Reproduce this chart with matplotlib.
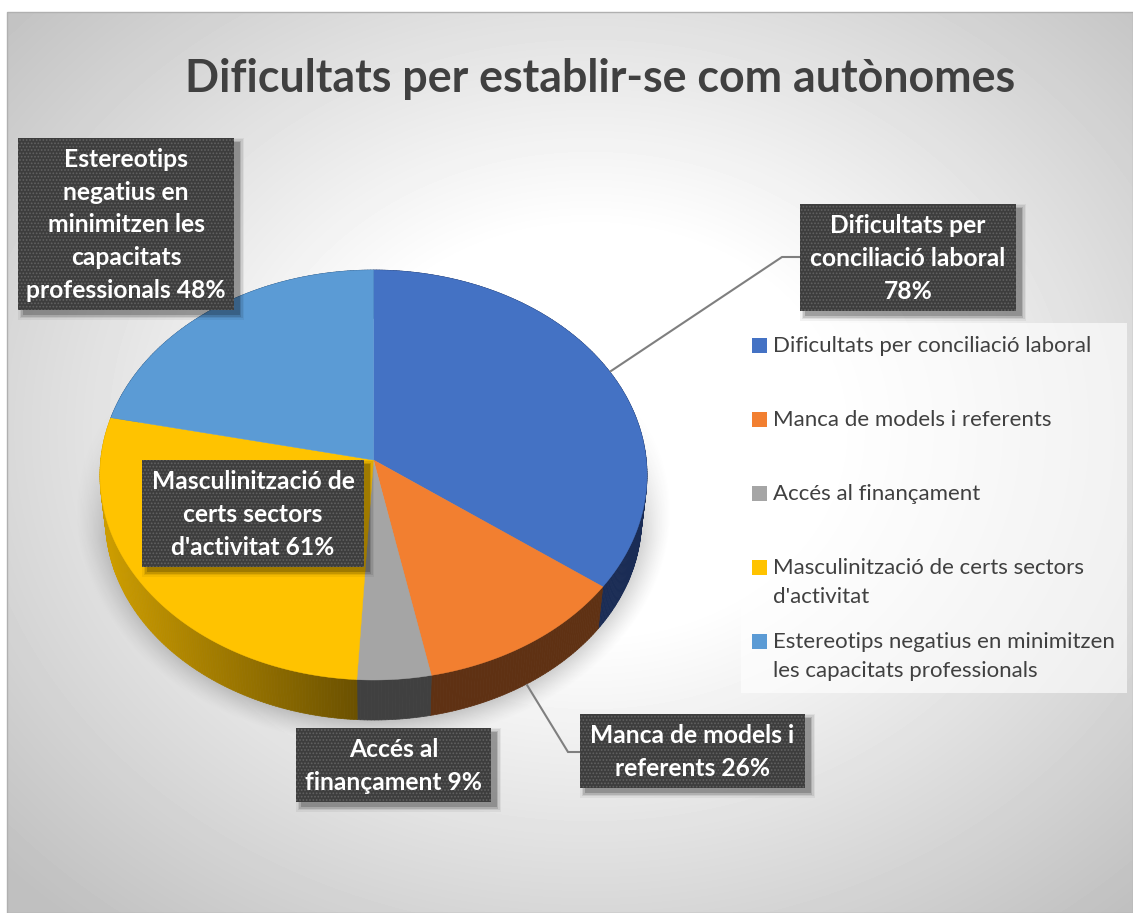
import numpy as np
import matplotlib
matplotlib.use("Agg")
import matplotlib.pyplot as plt
from matplotlib.collections import PolyCollection
from matplotlib.colors import to_rgb
from matplotlib.patches import Rectangle

plt.rcParams['font.family'] = ['Lato', 'DejaVu Sans']
plt.rcParams['hatch.linewidth'] = 0.8

# Data
categories = [
    "Dificultats per conciliació laboral",
    "Manca de models i referents",
    "Accés al finançament",
    "Masculinització de certs sectors d'activitat",
    "Estereotips negatius en minimitzen les capacitats professionals",
]
values = [78, 26, 9, 61, 48]
legend_text = [
    "Dificultats per conciliació laboral",
    "Manca de models i referents",
    "Accés al finançament",
    "Masculinització de certs sectors\nd'activitat",
    "Estereotips negatius en minimitzen\nles capacitats professionals",
]
label_text = [
    "Dificultats per\nconciliació laboral\n",
    "Manca de models i\nreferents ",
    "Accés al\nfinançament ",
    "Masculinització de\ncerts sectors\nd'activitat ",
    "Estereotips\nnegatius en\nminimitzen les\ncapacitats\nprofessionals ",
]
colors = ["#4472C4", "#F27F30", "#A5A5A5", "#FFC300", "#5B9BD5"]
wall_left = ["#1A2C55", "#5F3113", "#404040", "#6B5100", "#24466B"]
wall_right = ["#1A2C55", "#5F3113", "#404040", "#CC9C00", "#24466B"]

# label boxes in pixels: left, top, right, bottom
label_boxes = [
    (800, 204, 1016, 311),
    (580, 714, 805, 788),
    (296, 728, 491, 802),
    (142, 460, 364, 567),
    (18, 138, 234, 310),
]

W, H = 1133, 913
fig = plt.figure(figsize=(W / 100, H / 100), dpi=100)
ax = fig.add_axes([0, 0, 1, 1])

# background gradient
yy, xx = np.mgrid[12:H, 7:W]
r = np.sqrt(((xx - 590) / 690.0) ** 2 + ((yy - 430) / 560.0) ** 2)
grey = 1.0 - 0.25 * np.clip((r - 0.36) / 0.8, 0, 1)
ax.imshow(grey, cmap="gray", vmin=0, vmax=1, extent=(7, W, H, 12), aspect="auto", zorder=0)
ax.add_patch(Rectangle((7, 12), W - 7, H - 12, fill=False, edgecolor="#b0b0b0", lw=1, zorder=1))

# soft shadow under the pie
yy, xx = np.mgrid[380:745, 75:675]
r = np.sqrt(((xx - 373) / 298.0) ** 2 + ((yy - 510) / 234.0) ** 2)
alpha = 0.42 * np.clip((1.0 - r) / 0.15, 0, 1) ** 1.3
alpha *= np.clip((yy - 400) / 140.0, 0, 1)
shadow = np.zeros(alpha.shape + (4,))
shadow[..., :3] = 0.25
shadow[..., 3] = alpha
ax.imshow(shadow, extent=(75, 675, 745, 380), aspect="auto", zorder=2)

# projection of the tilted disc
cx, cy = 373.5, 460.0
k = 0.0732
ax_x, ax_y = 272.8, 203.9
depth, shrink = 44.4, 0.98


def project(theta, lower=False):
    u, v = np.sin(theta), np.cos(theta)
    d = 1 + k * v
    x, h = ax_x * u / d, ax_y * v / d
    if lower:
        return cx + x * shrink, cy - h * shrink + depth
    return cx + x, cy - h


edges = np.concatenate([[0], np.cumsum(values)]) / np.sum(values) * 2 * np.pi

# side wall
for i in range(len(values)):
    t = np.linspace(edges[i], edges[i + 1], max(int((edges[i + 1] - edges[i]) * 90), 4))
    x0, y0 = project(t)
    x1, y1 = project(t, lower=True)
    polys = []
    cols = []
    for j in range(len(t) - 1):
        polys.append([(x0[j], y0[j]), (x0[j + 1], y0[j + 1]), (x1[j + 1], y1[j + 1]), (x1[j], y1[j])])
        f = np.clip((x0[j] - 108) / (358 - 108.0), 0, 1)
        cols.append(tuple((1 - f) * np.array(to_rgb(wall_right[i])) + f * np.array(to_rgb(wall_left[i]))))
    ax.add_collection(PolyCollection(polys, facecolors=cols, edgecolors=cols, linewidths=0.5, zorder=3))

# top face
for i in range(len(values)):
    t = np.linspace(edges[i], edges[i + 1], 200)
    x0, y0 = project(t)
    ax.fill(np.r_[cx, x0], np.r_[cy, y0], color=colors[i], lw=0.3, zorder=4)

# leader lines
leader_x = [[611, 782, 800], [527, 568, 580]]
leader_y = [[371, 257, 257], [685, 752, 752]]
for lx, ly in zip(leader_x, leader_y):
    ax.plot(lx, ly, color="#7f7f7f", lw=1.5, zorder=5, solid_joinstyle="miter")

# legend panel
ax.add_patch(Rectangle((741, 323), 386, 370, facecolor="white", alpha=0.62, lw=0, zorder=5))
legend_y = [345, 419, 493, 567, 641]
for name, c, ly in zip(legend_text, colors, legend_y):
    ax.add_patch(Rectangle((752, ly - 7), 15, 15, facecolor=c, lw=0, zorder=6))
    ax.text(773, ly - 8.5, name, fontsize=16, color="#404040", va="top", ha="left",
            linespacing=1.56, zorder=6)

# data labels
for text, val, (x0, y0, x1, y1) in zip(label_text, values, label_boxes):
    for s, a in zip((10, 7, 4, 1), (0.05, 0.08, 0.12, 0.18)):
        ax.add_patch(Rectangle((x0 + 5 - s / 2, y0 + 5 - s / 2), x1 - x0 + s, y1 - y0 + s,
                               facecolor="black", alpha=a, lw=0, zorder=7))
    ax.add_patch(Rectangle((x0, y0), x1 - x0, y1 - y0, facecolor="#3D3D3D", edgecolor="#626262",
                           hatch=".....", lw=0, zorder=8))
    ax.text((x0 + x1) / 2, (y0 + y1) / 2 + 1, f"{text}{val}%", color="white", fontsize=17.7,
            fontweight="bold", ha="center", va="center", linespacing=1.51, zorder=9)

ax.text(600, 78.5, "Dificultats per establir-se com autònomes", fontsize=32.2, fontweight="bold",
        color="#404040", ha="center", va="center", zorder=9)

ax.set_xlim(0, W)
ax.set_ylim(H, 0)
ax.axis("off")
fig.savefig("out.png", dpi=100, facecolor="white")
